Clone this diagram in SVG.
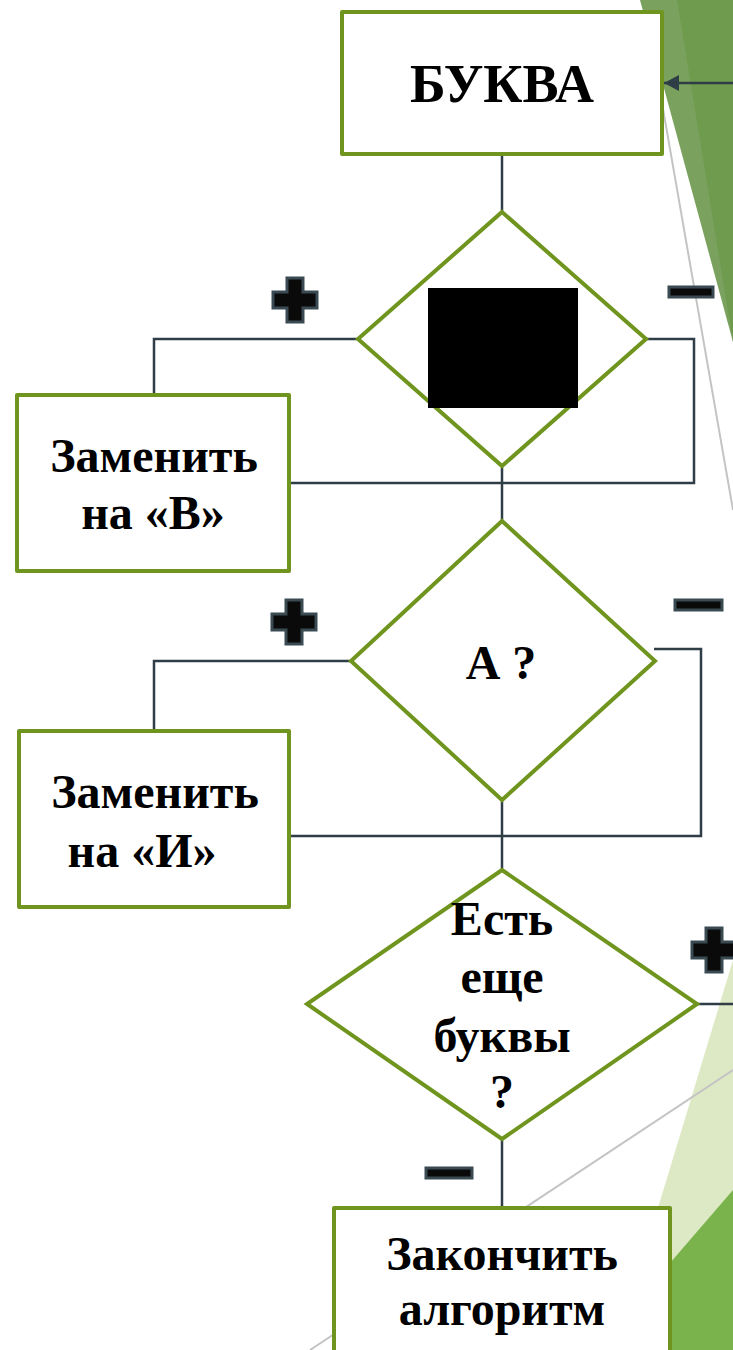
<svg xmlns="http://www.w3.org/2000/svg" width="733" height="1350" viewBox="0 0 733 1350">
<style>
.box{fill:#fff;stroke:#6f951f;stroke-width:4;stroke-linejoin:round}
.dia{fill:#fff;stroke:#6f951f;stroke-width:4;stroke-linejoin:miter}
.con{fill:none;stroke:#2f3e46;stroke-width:2.5}
.t{font-family:"Liberation Serif","Times New Roman",serif;font-weight:bold;font-size:48px;fill:#000;text-anchor:middle}
.big{font-size:54px}
.sign{fill:#0a0a0a;stroke:#3a4a52;stroke-width:3}
.gl{stroke:#c4c4c4;stroke-width:2;fill:none}
</style>
<defs>
<marker id="ah" markerWidth="16" markerHeight="16" refX="15" refY="8" orient="auto" markerUnits="userSpaceOnUse">
<path d="M0,0 L15,8 L0,16 Z" fill="#2f3e46"/>
</marker>
<path id="plus" d="M-8,-22 H8 V-8 H22 V8 H8 V22 H-8 V8 H-22 V-8 H-8 Z"/>
</defs>
<g id="background">
<polygon points="640,0 733,0 733,342" fill="#7aa25e"/>
<polygon points="677,0 733,0 733,342" fill="#6f9b4f"/>
<line class="gl" x1="651" y1="40" x2="733" y2="510"/>
<polygon points="733,960 733,1350 615,1350" fill="#dde9c4"/>
<polygon points="733,1190 733,1350 595,1350" fill="#7ab34b"/>
<line class="gl" x1="733" y1="1070" x2="310" y2="1350"/>
</g>
<g id="connectors">
<line class="con" x1="733" y1="83" x2="664" y2="83" marker-end="url(#ah)"/>
<line class="con" x1="502" y1="154" x2="502" y2="212"/>
<polyline class="con" points="358,339 154,339 154,395"/>
<polyline class="con" points="646,339 694,339 694,483 290,483"/>
<line class="con" x1="502" y1="467" x2="502" y2="521"/>
<polyline class="con" points="351,661 154,661 154,731"/>
<polyline class="con" points="654,649 701,649 701,836 290,836"/>
<line class="con" x1="502" y1="800" x2="502" y2="870"/>
<line class="con" x1="697" y1="1004" x2="733" y2="1004"/>
<line class="con" x1="502" y1="1139" x2="502" y2="1208"/>
</g>
<g id="n-bukva">
<rect class="box" x="342" y="12" width="320" height="142"/>
<text class="t big" x="502" y="102">БУКВА</text>
</g>
<g id="n-dec1">
<polygon class="dia" points="502,212 646,339 502,466 358,339"/>
<rect x="428" y="288" width="150" height="120" fill="#000"/>
</g>
<g id="n-zamB">
<rect class="box" x="17" y="395" width="272" height="176"/>
<text class="t" x="154" y="472">Заменить</text>
<text class="t" x="153" y="529">на «В»</text>
</g>
<g id="n-dec2">
<polygon class="dia" points="502,521 655,661 502,800 351,661"/>
<text class="t" x="501" y="679">А ?</text>
</g>
<g id="n-zamI">
<rect class="box" x="19" y="731" width="270" height="176"/>
<text class="t" x="155" y="808">Заменить</text>
<text class="t" x="142" y="867">на «И»</text>
</g>
<g id="n-dec3">
<polygon class="dia" points="502,870 697,1004 502,1139 307,1004"/>
<text class="t" x="502" y="935">Есть</text>
<text class="t" x="502" y="993">еще</text>
<text class="t" x="502" y="1052">буквы</text>
<text class="t" x="502" y="1108">?</text>
</g>
<g id="n-end">
<rect class="box" x="334" y="1208" width="336" height="160"/>
<text class="t" x="502" y="1270">Закончить</text>
<text class="t" x="502" y="1325">алгоритм</text>
</g>
<g id="labels">
<use href="#plus" class="sign" x="295" y="300"/>
<rect class="sign" x="669" y="287" width="44" height="10"/>
<use href="#plus" class="sign" x="294" y="622"/>
<rect class="sign" x="675" y="600" width="47" height="10"/>
<use href="#plus" class="sign" x="714" y="950"/>
<rect class="sign" x="426" y="1168" width="46" height="10"/>
</g>
</svg>
